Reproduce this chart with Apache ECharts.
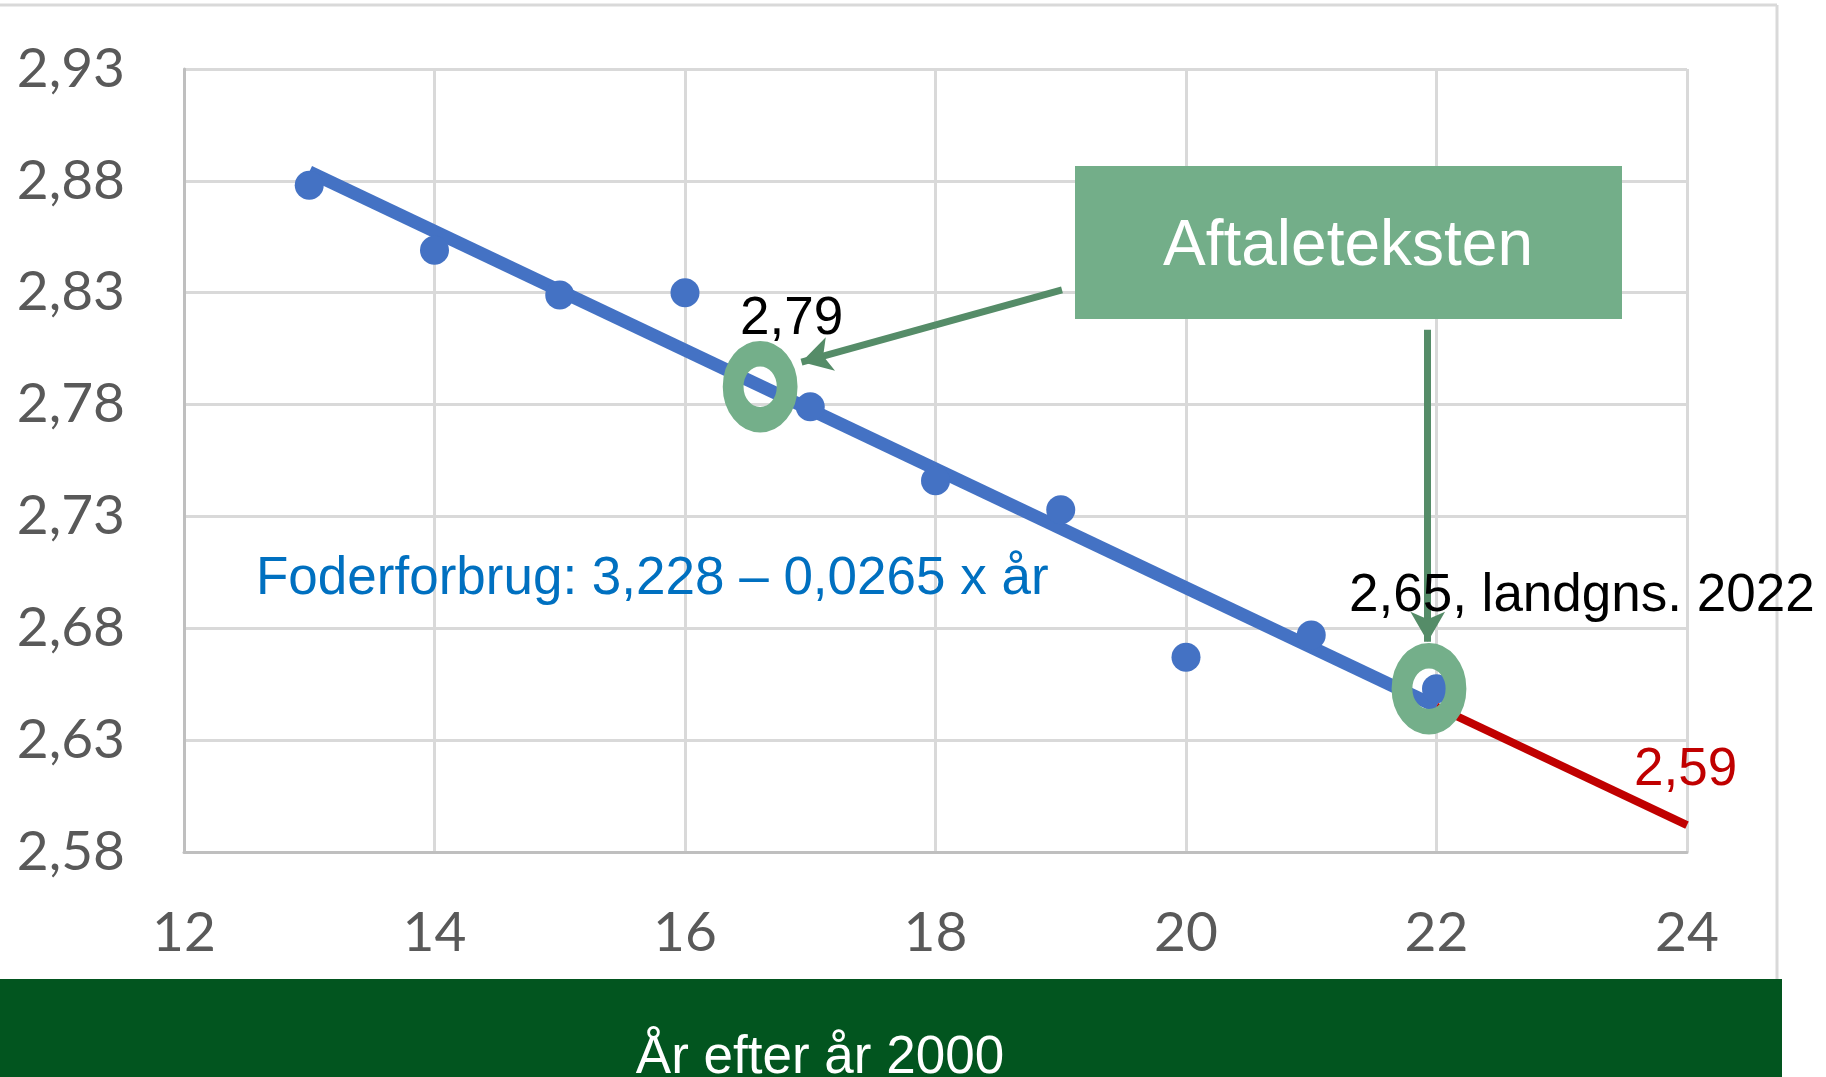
<!DOCTYPE html>
<html>
<head>
<meta charset="utf-8">
<script src="https://cdn.jsdelivr.net/npm/echarts@6/dist/echarts.min.js"></script>
<style>
  html, body { margin: 0; padding: 0; background: #fff; }
  #chart { width: 1826px; height: 1077px; }
</style>
</head>
<body>
<div id="chart"></div>
<script>
// data
var years = [13, 14, 15, 16, 17, 18, 19, 20, 21, 22];
var feed = [2.878, 2.849, 2.829, 2.830, 2.779, 2.746, 2.733, 2.667, 2.677, 2.653];

// fitted line (blue) and its extension (red)
var trendX = [13, 22];
var trendY = [2.884, 2.645];
var extX = [22, 24];
var extY = [2.645, 2.592];

// highlighted points (rings)
var ringX = [16.6, 21.94];
var ringY = [2.788, 2.653];

// arrows from the text box, [from, to] in axis units
var arrows = [
    [[19.01, 2.8313], [16.93, 2.799]],
    [[21.93, 2.8135], [21.93, 2.674]]
];

function zip(a, b) {
    return a.map(function (v, i) { return [v, b[i]]; });
}

var labelFont = 'Lato, "Open Sans", sans-serif';
var textFont = '"Liberation Sans", Arial, sans-serif';

var chart = echarts.init(document.getElementById('chart'));
chart.setOption({
    backgroundColor: '#fff',
    animation: false,
    grid: { left: 184, right: 139, top: 69, bottom: 225 },
    xAxis: {
        type: 'value',
        min: 12, max: 24, interval: 2,
        axisLine: { show: true, lineStyle: { color: '#BFBFBF', width: 3 } },
        axisTick: { show: false },
        splitLine: { show: true, lineStyle: { color: '#D9D9D9', width: 3 } },
        axisLabel: { color: '#595959', fontFamily: labelFont, fontSize: 55, margin: 54 }
    },
    yAxis: {
        type: 'value',
        min: 2.58, max: 2.93, interval: 0.05,
        axisLine: { show: true, lineStyle: { color: '#BFBFBF', width: 3 } },
        axisTick: { show: false },
        splitLine: { show: true, lineStyle: { color: '#D9D9D9', width: 3 } },
        axisLabel: {
            color: '#595959', fontFamily: labelFont, fontSize: 55, margin: 59,
            formatter: function (v) { return v.toFixed(2).replace('.', ','); }
        }
    },
    series: [
        {
            type: 'line',
            data: zip(trendX, trendY),
            showSymbol: false,
            lineStyle: { color: '#4472C4', width: 13 },
            z: 2
        },
        {
            type: 'line',
            data: zip(extX, extY),
            showSymbol: false,
            lineStyle: { color: '#C00000', width: 8 },
            z: 2
        },
        {
            type: 'scatter',
            data: zip(years, feed),
            symbolSize: 29,
            itemStyle: { color: '#4472C4', opacity: 1 },
            z: 3
        },
        {
            type: 'scatter',
            data: zip(ringX, ringY),
            symbol: 'circle',
            symbolSize: [54, 66],
            itemStyle: { color: 'rgba(0,0,0,0)', borderColor: '#74AF8A', borderWidth: 23, opacity: 1 },
            z: 4,
            markLine: {
                silent: true,
                symbol: ['none', 'arrow'],
                symbolSize: [26, 30],
                label: { show: false },
                lineStyle: { color: '#558C68', width: 7, type: 'solid', opacity: 1 },
                data: arrows.map(function (a) {
                    return [{ coord: a[0] }, { coord: a[1] }];
                })
            }
        }
    ],
    graphic: [
        { type: 'line', shape: { x1: 0, y1: 5, x2: 1777, y2: 5 }, style: { stroke: '#D9D9D9', lineWidth: 3 } },
        { type: 'line', shape: { x1: 1777, y1: 5, x2: 1777, y2: 979 }, style: { stroke: '#D9D9D9', lineWidth: 3 } },
        { type: 'rect', shape: { x: 0, y: 979, width: 1782, height: 98 }, style: { fill: '#02551F' } },
        {
            type: 'text', style: {
                x: 820, y: 1058, text: 'År efter år 2000', fill: '#fff',
                font: '53px ' + textFont, textAlign: 'center', textVerticalAlign: 'middle'
            }
        },
        { type: 'rect', z: 100, shape: { x: 1075, y: 166, width: 547, height: 153 }, style: { fill: '#73AE89' } },
        {
            type: 'text', z: 101, style: {
                x: 1348, y: 247, text: 'Aftaleteksten', fill: '#fff',
                font: '64px ' + textFont, textAlign: 'center', textVerticalAlign: 'middle'
            }
        },
        {
            type: 'text', z: 101, style: {
                x: 256, y: 579, text: 'Foderforbrug: 3,228 – 0,0265 x år', fill: '#0070C0',
                font: '53px ' + textFont, textAlign: 'left', textVerticalAlign: 'middle'
            }
        },
        {
            type: 'text', z: 101, style: {
                x: 740, y: 319, text: '2,79', fill: '#000',
                font: '53px ' + textFont, textAlign: 'left', textVerticalAlign: 'middle'
            }
        },
        {
            type: 'text', z: 101, style: {
                x: 1349, y: 596, text: '2,65, landgns. 2022', fill: '#000',
                font: '53px ' + textFont, textAlign: 'left', textVerticalAlign: 'middle'
            }
        },
        {
            type: 'text', z: 101, style: {
                x: 1634, y: 770, text: '2,59', fill: '#C00000',
                font: '53px ' + textFont, textAlign: 'left', textVerticalAlign: 'middle'
            }
        }
    ]
});
</script>
</body>
</html>
